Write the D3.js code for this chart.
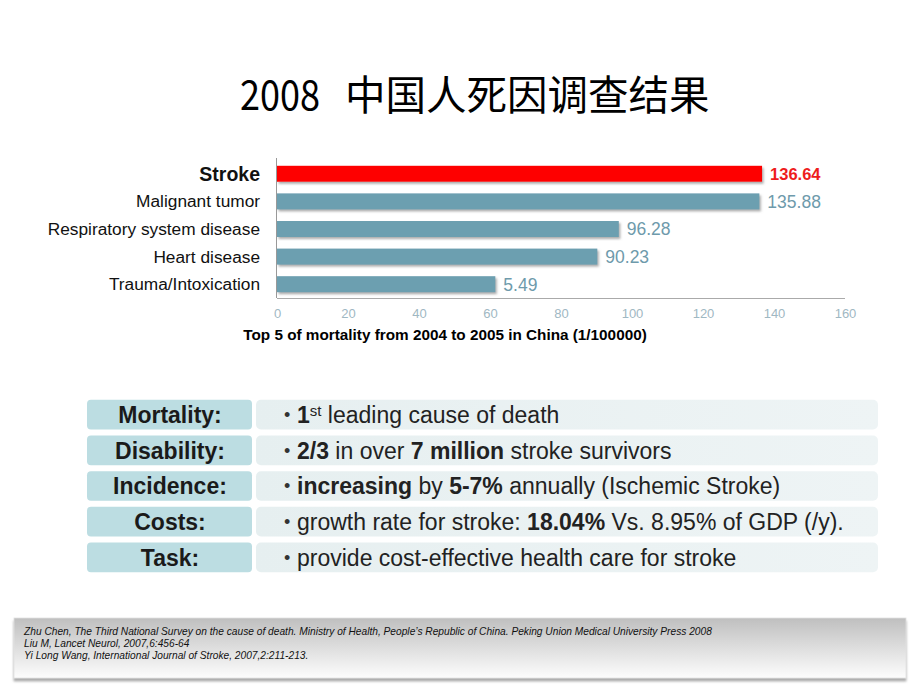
<!DOCTYPE html>
<html><head><meta charset="utf-8">
<script src="https://cdn.jsdelivr.net/npm/d3@7/dist/d3.min.js"></script>
<style>
html,body{margin:0;padding:0;background:#fff;}
svg{display:block;}
</style></head>
<body>
<svg id="c" width="920" height="690"></svg>
<script>
const categories = ["Stroke","Malignant tumor","Respiratory system disease","Heart disease","Trauma/Intoxication"];
const values = [136.64, 135.88, 96.28, 90.23, 61.5];
const valueLabels = ["136.64","135.88","96.28","90.23","5.49"];
const xTicks = [0,20,40,60,80,100,120,140,160];

const rowLabels = ["Mortality:","Disability:","Incidence:","Costs:","Task:"];
const rowTexts = [
  [["1",true],["st",false,"sup"],[" leading cause of death",false]],
  [["2/3",true],[" in over ",false],["7 million",true],[" stroke survivors",false]],
  [["increasing",true],[" by ",false],["5-7%",true],[" annually (Ischemic Stroke)",false]],
  [["growth rate for stroke: ",false],["18.04%",true],[" Vs. 8.95% of GDP (/y).",false]],
  [["provide cost-effective health care for stroke",false]]
];
const refs = [
  "Zhu Chen, The Third National Survey on the cause of death. Ministry of Health, People\u2019s Republic of China. Peking Union Medical University Press 2008",
  "Liu M, Lancet Neurol, 2007,6:456-64",
  "Yi Long Wang, International Journal of Stroke, 2007,2:211-213."
];

const svg = d3.select("#c");
const defs = svg.append("defs");
const sh = defs.append("filter").attr("id","sh").attr("x","-5%").attr("y","-30%").attr("width","110%").attr("height","180%");
sh.append("feDropShadow").attr("dx",1.5).attr("dy",2).attr("stdDeviation",1.2).attr("flood-color","#777").attr("flood-opacity",0.6);
const g1 = defs.append("linearGradient").attr("id","fg").attr("x1",0).attr("y1",0).attr("x2",0).attr("y2",1);
g1.append("stop").attr("offset","0%").attr("stop-color","#bfbfbf");
g1.append("stop").attr("offset","100%").attr("stop-color","#fdfdfd");
const g2 = defs.append("linearGradient").attr("id","rg").attr("x1",0).attr("y1",0).attr("x2",1).attr("y2",0);
g2.append("stop").attr("offset","0%").attr("stop-color","#e6eff0");
g2.append("stop").attr("offset","100%").attr("stop-color","#eef4f5");
const fsh = defs.append("filter").attr("id","fsh").attr("x","-2%").attr("y","-10%").attr("width","104%").attr("height","130%");
fsh.append("feDropShadow").attr("dx",0).attr("dy",3).attr("stdDeviation",1).attr("flood-color","#888").attr("flood-opacity",0.7);

// Title
const cjk = "'Noto Sans CJK SC', sans-serif";
svg.append("text").attr("x",240).attr("y",110)
  .attr("font-family",cjk).attr("font-size",40.5).attr("fill","#000")
  .attr("textLength",80).attr("lengthAdjust","spacingAndGlyphs").text("2008");
svg.append("text").attr("x",345).attr("y",110)
  .attr("font-family",cjk).attr("font-size",40.5).attr("fill","#000").text("中国人死因调查结果");

// Bar chart
const x = d3.scaleLinear().domain([0,160]).range([277,845]);
const y = d3.scaleBand().domain(categories).range([160,298]).paddingInner(0.42).paddingOuter(0.21);
const font = "'Liberation Sans', Arial, sans-serif";

svg.append("g").selectAll("rect").data(categories).join("rect")
  .attr("x", x(0)).attr("y", d=>y(d))
  .attr("width", (d,i)=>x(values[i])-x(0)).attr("height", y.bandwidth())
  .attr("fill", (d,i)=> i===0 ? "#fe0000" : "#6c9fb0")
  .attr("filter","url(#sh)");

svg.append("line").attr("x1",276.5).attr("x2",276.5).attr("y1",158).attr("y2",298).attr("stroke","#999").attr("stroke-width",1);

const xAxis = svg.append("g").attr("transform","translate(0,298)")
  .call(d3.axisBottom(x).tickValues(xTicks).tickSize(0).tickPadding(11));
xAxis.select(".domain").attr("stroke","#aaa").attr("d","M277,0.5H845");
xAxis.selectAll("text").attr("fill","#9fb8c3").attr("font-family",font).attr("font-size",13);

svg.append("g").selectAll("text").data(categories).join("text")
  .attr("x",260).attr("y",d=>y(d)+y.bandwidth()/2).attr("dy","0.35em").attr("text-anchor","end")
  .attr("font-family",font).attr("font-size",(d,i)=> i===0?19.5:17.3).attr("font-weight",(d,i)=>i===0?"bold":"normal")
  .attr("fill","#111").text(d=>d);

svg.append("g").selectAll("text").data(categories).join("text")
  .attr("x",(d,i)=>x(values[i])+8).attr("y",d=>y(d)+y.bandwidth()/2).attr("dy","0.36em")
  .attr("font-family",font).attr("font-size",(d,i)=>i===0?16.5:17.5).attr("font-weight",(d,i)=>i===0?"bold":"normal")
  .attr("fill",(d,i)=>i===0?"#ee1c1c":"#6e9aab").text((d,i)=>valueLabels[i]);

svg.append("text").attr("x",445).attr("y",340).attr("text-anchor","middle")
  .attr("font-family",font).attr("font-size",15.3).attr("font-weight","bold").attr("fill","#000")
  .text("Top 5 of mortality from 2004 to 2005 in China (1/100000)");

// Table
const rowY = d3.scaleBand().domain(rowLabels).range([397,575]).paddingInner(0.17).paddingOuter(0.08);
const rows = svg.append("g").selectAll("g").data(rowLabels).join("g")
  .attr("transform", d=>`translate(0,${rowY(d)})`);
rows.append("rect").attr("x",87).attr("y",0).attr("width",165).attr("height",rowY.bandwidth())
  .attr("rx",4).attr("fill","#bcdde2");
rows.append("rect").attr("x",256).attr("y",0).attr("width",622).attr("height",rowY.bandwidth())
  .attr("rx",5).attr("fill","url(#rg)");
rows.append("text").attr("x",170).attr("y",rowY.bandwidth()/2).attr("dy","0.36em").attr("text-anchor","middle")
  .attr("font-family",font).attr("font-size",23).attr("font-weight","bold").attr("fill","#1a1a1a").text(d=>d);
rows.append("text").attr("x",284).attr("y",rowY.bandwidth()/2).attr("dy","0.36em")
  .attr("font-family",font).attr("font-size",18).attr("fill","#333").text("\u2022");
rows.each(function(d,i){
  const t = d3.select(this).append("text").attr("x",297).attr("y",rowY.bandwidth()/2).attr("dy","0.36em")
    .attr("font-family",font).attr("font-size",23).attr("fill","#222").attr("xml:space","preserve");
  rowTexts[i].forEach(p=>{
    const ts = t.append("tspan").text(p[0]).attr("font-weight",p[1]?"bold":"normal");
    if(p[2]==="sup") ts.attr("font-size",15).attr("baseline-shift","7");
  });
});

// Footer references
svg.append("rect").attr("x",14).attr("y",618).attr("width",892).attr("height",60).attr("fill","url(#fg)")
  .attr("stroke","#e0e0e0").attr("stroke-width",0.8).attr("filter","url(#fsh)");
svg.append("g").selectAll("text").data(refs).join("text")
  .attr("x",24).attr("y",(d,i)=>635+i*12)
  .attr("font-family","'Liberation Sans Narrow', 'Arial Narrow', sans-serif").attr("font-style","italic")
  .attr("font-size",10.2).attr("fill","#111").text(d=>d);
</script>
</body></html>
